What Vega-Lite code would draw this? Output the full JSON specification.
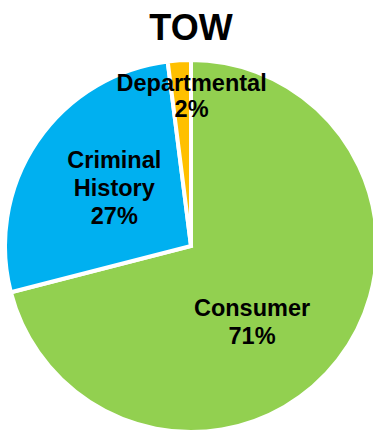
{
  "$schema": "https://vega.github.io/schema/vega-lite/v6.json",
  "autosize": {"type": "none"},
  "width": 382,
  "height": 402,
  "padding": {"top": 45, "left": 0, "right": 0, "bottom": 0},
  "background": "white",
  "title": {"text": "TOW", "font": "Liberation Sans", "fontSize": 36, "fontWeight": "bold", "color": "black", "anchor": "middle", "offset": -3},
  "view": {"stroke": null},
  "data": {"values": [
    {"category": "Consumer", "value": 71, "label": "Consumer\n71%"},
    {"category": "Criminal History", "value": 27, "label": "Criminal\nHistory\n27%"},
    {"category": "Departmental", "value": 2, "label": "Departmental\n2%"}
  ]},
  "encoding": {
    "theta": {"field": "value", "type": "quantitative", "stack": true}
  },
  "layer": [
    {
      "mark": {"type": "arc", "outerRadius": 186, "stroke": "white", "strokeWidth": 4, "strokeJoin": "miter"},
      "encoding": {
        "color": {"field": "category", "type": "nominal", "scale": {"domain": ["Consumer", "Criminal History", "Departmental"], "range": ["#92D050", "#00B0F0", "#FFC000"]}, "legend": null},
        "order": {"field": "category"}
      }
    },
    {
      "mark": {"type": "text", "radius": 100, "dx": -18, "dy": 2, "font": "Liberation Sans", "fontSize": 23.5, "fontWeight": "bold", "lineBreak": "\n", "lineHeight": 28, "color": "black", "align": "center", "baseline": "middle"},
      "encoding": {
        "text": {"condition": {"test": "datum.category === 'Consumer'", "field": "label"}, "value": ""},
        "order": {"field": "category"}
      }
    },
    {
      "mark": {"type": "text", "radius": 100, "dx": 6, "dy": -29, "font": "Liberation Sans", "fontSize": 23.5, "fontWeight": "bold", "lineBreak": "\n", "lineHeight": 28, "color": "black", "align": "center", "baseline": "middle"},
      "encoding": {
        "text": {"condition": {"test": "datum.category === 'Criminal History'", "field": "label"}, "value": ""},
        "order": {"field": "category"}
      }
    },
    {
      "mark": {"type": "text", "radius": 150, "dx": 10, "dy": -12, "font": "Liberation Sans", "fontSize": 23.5, "fontWeight": "bold", "lineBreak": "\n", "lineHeight": 26, "color": "black", "align": "center", "baseline": "middle"},
      "encoding": {
        "text": {"condition": {"test": "datum.category === 'Departmental'", "field": "label"}, "value": ""},
        "order": {"field": "category"}
      }
    }
  ]
}
